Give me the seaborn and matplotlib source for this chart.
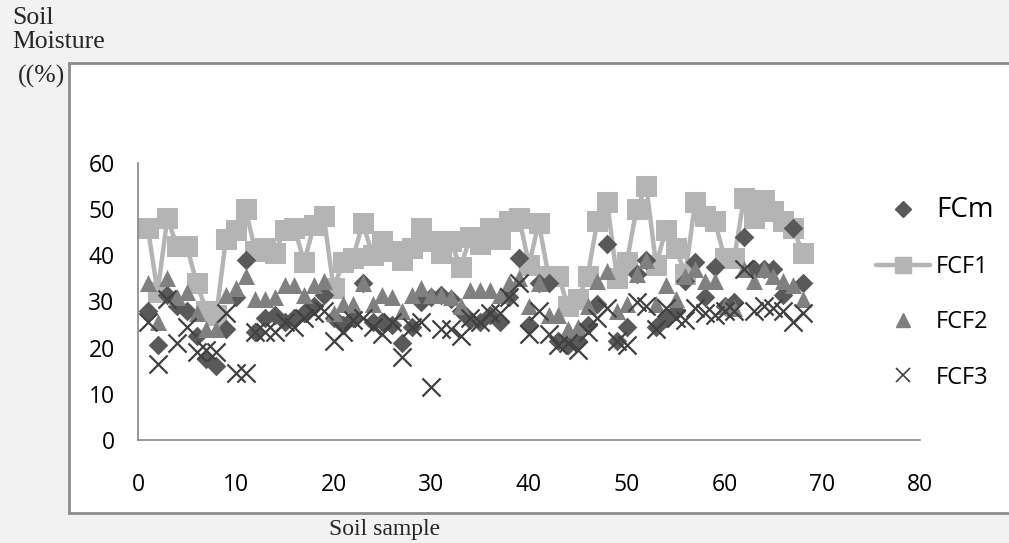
import matplotlib
matplotlib.use("Agg")
import matplotlib.pyplot as plt
import seaborn as sns
import pandas as pd
from matplotlib.patches import Rectangle
from matplotlib.lines import Line2D

samples = list(range(1, 69))
fcm = [28, 20.5, 31.5, 29, 28, 22.5, 17.5, 16, 24, 31,
       39, 23.5, 26.5, 27, 25.5, 26.5, 27.5, 29, 31.5, 26.5,
       25, 26.5, 34, 25.5, 25.5, 25, 21, 24.5, 30, 31,
       31.5, 30.5, 28, 26, 25.5, 27, 25.5, 31, 39.5, 25,
       34, 34, 21.5, 20.5, 21.5, 25, 29.5, 42.5, 21.5, 24.5,
       36, 39, 24.5, 26.5, 28, 34.5, 38.5, 31, 37.5, 29,
       30, 44, 37, 37, 37, 31.5, 46, 34]
fcf1 = [46, 32, 48, 42, 42, 34, 28, 27, 43.5, 45.5,
        50, 41, 41.5, 40.5, 45.5, 46, 38.5, 46.5, 48.5, 33,
        38.5, 39.5, 47, 40, 43, 41, 39, 41.5, 46, 43,
        40.5, 43, 37.5, 44, 42.5, 46, 43.5, 47.5, 48, 38,
        47, 35.5, 35.5, 29, 30.5, 35.5, 47.5, 51.5, 35, 38.5,
        50, 55, 38, 45.5, 41.5, 36, 51.5, 48.5, 47.5, 39.5,
        39.5, 52.5, 48, 52, 49.5, 47.5, 46, 40.5]
fcf2 = [34, 25.5, 35, 31, 32, 27.5, 24, 24, 31.5, 33,
        35.5, 30.5, 30.5, 31, 33.5, 33.5, 31.5, 33.5, 34.5, 27.5,
        29.5, 29.5, 34, 29.5, 31.5, 31, 28, 31.5, 33, 31.5,
        31.5, 31, 29, 32.5, 32.5, 32.5, 31.5, 34, 35, 29,
        34, 27, 27, 24, 24.5, 29, 34.5, 36.5, 28, 29.5,
        36, 39, 29.5, 33.5, 30.5, 35.5, 37, 34.5, 34.5, 29,
        28.5, 37, 34.5, 37, 35.5, 34.5, 33.5, 30.5]
fcf3 = [25.5, 16.5, 30.5, 21, 24.5, 19, 19.5, 19, 27.5, 14.5,
        14.5, 23.5, 23.5, 23.5, 25.5, 24.5, 26.5, 27.5, 28, 21.5,
        23.5, 26, 26.5, 24.5, 23, 25.5, 18, 24.5, 25.5, 11.5,
        24, 24, 22.5, 26.5, 25.5, 27.5, 27.5, 31, 34, 23,
        28, 23, 20.5, 21, 19.5, 23.5, 26.5, 28.5, 21.5, 20.5,
        30, 29, 24, 28.5, 26.5, 26, 28.5, 27.5, 27, 28,
        28, 37, 28, 29, 28.5, 28, 25.5, 27.5]
series_names = ["FCm", "FCF1", "FCF2", "FCF3"]
x_ticks = [0, 10, 20, 30, 40, 50, 60, 70, 80]
y_ticks = [0, 10, 20, 30, 40, 50, 60]

c_fcm = "#595959"
c_fcf1 = "#b4b4b4"
c_fcf2 = "#808080"
c_fcf3 = "#404040"

sns.set_theme(style="white")
plt.rcParams["font.family"] = ["Open Sans", "DejaVu Sans"]

W, H = 1009, 543
fig = plt.figure(figsize=(W / 100, H / 100), dpi=100, facecolor="#f2f2f2")
fig.patches.append(Rectangle((69 / W, (H - 513) / H), (1015 - 69) / W, (513 - 63) / H,
                             transform=fig.transFigure, facecolor="white",
                             edgecolor="#8c8c8c", linewidth=2, zorder=-5))

ax = fig.add_axes([138 / W, (H - 440) / H, (920 - 138) / W, (440 - 163) / H])
ax.set_zorder(2)
ax.set_facecolor("white")

df = pd.DataFrame({"sample": samples, "FCm": fcm, "FCF1": fcf1, "FCF2": fcf2, "FCF3": fcf3})

sns.lineplot(data=df, x="sample", y="FCF1", color=c_fcf1, linewidth=3.2, marker="s",
             markersize=14, markeredgecolor=c_fcf1, ax=ax, zorder=2)
sns.scatterplot(data=df, x="sample", y="FCm", color=c_fcm, marker="D", s=100,
                edgecolor=c_fcm, linewidth=0, ax=ax, zorder=3)
sns.scatterplot(data=df, x="sample", y="FCF2", color=c_fcf2, marker="^", s=150,
                edgecolor=c_fcf2, linewidth=0, ax=ax, zorder=4)
sns.scatterplot(data=df, x="sample", y="FCF3", color=c_fcf3, marker="x", s=170,
                linewidth=1.6, ax=ax, zorder=5)

ax.set_xlim(0, 80)
ax.set_ylim(0, 60)
ax.set_xticks(x_ticks)
ax.set_yticks(y_ticks)
ax.set_xlabel("")
ax.set_ylabel("")
for s in ["top", "right"]:
    ax.spines[s].set_visible(False)
for s in ["left", "bottom"]:
    ax.spines[s].set_color("#868686")
    ax.spines[s].set_linewidth(1.2)
ax.tick_params(axis="both", direction="out", length=5.8, width=1.2, color="#868686",
               labelsize=16.5, labelcolor="black")
ax.tick_params(axis="x", pad=18)
ax.tick_params(axis="y", pad=11)
ax.grid(False)

handles = [
    Line2D([], [], marker="D", ls="none", color=c_fcm, markersize=8),
    Line2D([], [], marker="s", color=c_fcf1, lw=3.2, markersize=11),
    Line2D([], [], marker="^", ls="none", color=c_fcf2, markersize=10),
    Line2D([], [], marker="x", ls="none", color=c_fcf3, markersize=10, mew=1.2),
]
leg = fig.legend(handles, series_names, loc="upper left",
                 bbox_to_anchor=(876 / W, 1 - 196 / H), frameon=False, fontsize=17,
                 handlelength=2.3, handletextpad=0.25, labelspacing=1.32,
                 borderpad=0, borderaxespad=0, labelcolor="black")
leg.get_texts()[0].set_fontsize(20)
leg.set_zorder(3)

serif = ["Liberation Serif", "DejaVu Serif"]
fig.text(12 / W, 1 - 18 / H, "Soil", family=serif, fontsize=18.5, va="center", ha="left")
fig.text(12 / W, 1 - 42 / H, "Moisture", family=serif, fontsize=18.5, va="center", ha="left")
fig.text(18 / W, 1 - 76 / H, "((%)", family=serif, fontsize=18.5, va="center", ha="left")
fig.text(385 / W, 1 - 529 / H, "Soil sample", family=serif, fontsize=17, va="center", ha="center")

fig.savefig("out.png", dpi=100, facecolor=fig.get_facecolor())
